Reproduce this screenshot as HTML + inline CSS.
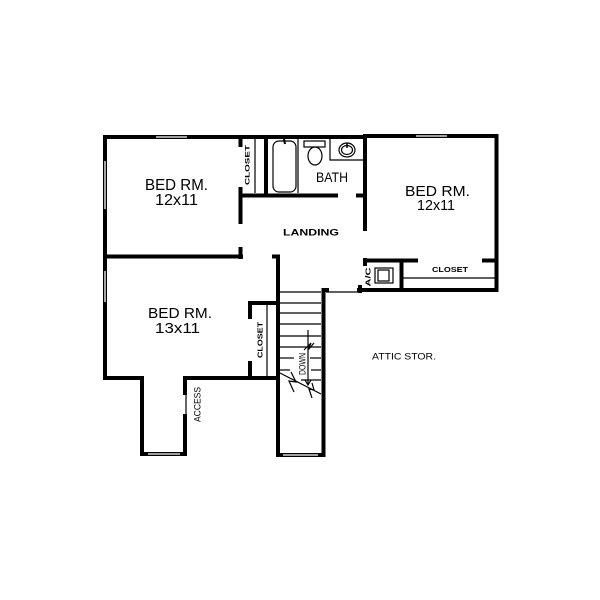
<!DOCTYPE html>
<html><head><meta charset="utf-8"><style>
html,body{margin:0;padding:0;background:#fff;}
svg{display:block;}
text{font-family:"Liberation Sans",sans-serif;fill:#000;}
</style></head><body>
<svg width="600" height="600" viewBox="0 0 600 600" xmlns="http://www.w3.org/2000/svg">
<rect width="600" height="600" fill="#fff"/>
<g stroke="#000" stroke-width="4" stroke-linecap="square" fill="none">
  <!-- outer top walls -->
  <line x1="105" y1="137" x2="365" y2="137"/>
  <line x1="365" y1="136" x2="496" y2="136"/>
  <!-- left wall -->
  <line x1="105" y1="137" x2="105" y2="378"/>
  <line x1="105" y1="378" x2="142" y2="378"/>
  <line x1="142" y1="378" x2="142" y2="454"/>
  <line x1="142" y1="454" x2="185" y2="454"/>
  <line x1="185" y1="454" x2="185" y2="416"/>
  <line x1="185" y1="393" x2="185" y2="378"/>
  <line x1="185" y1="378" x2="278" y2="378"/>
  <!-- bedroom divider -->
  <line x1="105" y1="256.5" x2="241" y2="256.5"/>
  <!-- closet left wall bed1 -->
  <line x1="240.5" y1="137" x2="240.5" y2="145"/>
  <line x1="240.5" y1="189" x2="240.5" y2="222"/>
  <line x1="240.5" y1="249" x2="240.5" y2="257"/>
  <!-- closet/tub wall -->
  <line x1="266" y1="137" x2="266" y2="195"/>
  <!-- landing top wall -->
  <line x1="240.5" y1="195.5" x2="336" y2="195.5"/>
  <line x1="358" y1="195.5" x2="365" y2="195.5"/>
  <!-- right block left wall -->
  <line x1="365" y1="136" x2="365" y2="229"/>
  <!-- A/C & closet -->
  <line x1="365" y1="260.5" x2="416" y2="260.5"/>
  <line x1="365" y1="260" x2="365" y2="264"/>
  <line x1="484" y1="260.5" x2="496" y2="260.5"/>
  <line x1="401.5" y1="260.5" x2="401.5" y2="290"/>
  <!-- right wall -->
  <line x1="496.5" y1="136" x2="496.5" y2="290"/>
  <line x1="359" y1="290" x2="496.5" y2="290"/>
  <line x1="360" y1="287" x2="360" y2="291"/>
  <!-- stair walls -->
  <line x1="274" y1="256.5" x2="278" y2="256.5"/>
  <line x1="278" y1="256.5" x2="278" y2="455"/>
  <line x1="278" y1="455" x2="323.5" y2="455"/>
  <line x1="323.5" y1="290" x2="323.5" y2="455"/>
  <line x1="323.5" y1="290" x2="327" y2="290"/>
  <!-- lower closet -->
  <line x1="250" y1="303" x2="278" y2="303"/>
  <line x1="250" y1="303" x2="250" y2="317"/>
  <line x1="250" y1="363" x2="250" y2="378"/>
</g>
<!-- windows (light inner lines) -->
<g stroke="#fff" stroke-width="1.3">
  <line x1="156" y1="137" x2="187" y2="137"/>
  <line x1="416" y1="136" x2="447" y2="136"/>
  <line x1="105" y1="161" x2="105" y2="209"/>
  <line x1="105" y1="271" x2="105" y2="302"/>
  <line x1="148" y1="454" x2="180" y2="454"/>
  <line x1="283" y1="455" x2="318" y2="455"/>
</g>
<!-- thin lines -->
<g stroke="#000" stroke-width="1.2" fill="none">
  <line x1="255" y1="139" x2="255" y2="193"/>
  <line x1="298" y1="139" x2="298" y2="193"/>
  <line x1="403" y1="278" x2="495" y2="278"/>
  <line x1="326" y1="292" x2="358" y2="292"/>
  <line x1="267" y1="305" x2="267" y2="376"/>
  <line x1="186" y1="393" x2="186" y2="416"/>
  <!-- stair treads -->
  <line x1="280" y1="292" x2="321" y2="292"/>
  <line x1="280" y1="303" x2="321" y2="303"/>
  <line x1="280" y1="313" x2="321" y2="313"/>
  <line x1="280" y1="324" x2="321" y2="324"/>
  <line x1="280" y1="336" x2="321" y2="336"/>
  <line x1="280" y1="347" x2="321" y2="347"/>
  <line x1="280" y1="358" x2="294" y2="358"/>
  <line x1="310" y1="358" x2="321" y2="358"/>
  <line x1="280" y1="370" x2="290" y2="370"/>
  <line x1="311" y1="370" x2="321" y2="370"/>
  <line x1="301" y1="380" x2="321" y2="380"/>
  <!-- break line -->
  <line x1="280" y1="373" x2="321" y2="394"/>
  <path d="M291 372 L296 382 L289 381 L294 392"/>
  <path d="M312 383 L314 390 L309 389 L312 398"/>
  <!-- down arrow -->
  <line x1="308" y1="330" x2="308" y2="384"/>
  <path d="M304 350 L311 343 L308 350 L314 343"/>
  <path d="M305 380 L308 385 L311 380"/>
  <!-- tub -->
  <rect x="273" y="141" width="23" height="51" rx="6" ry="6"/>
  <!-- toilet -->
  <rect x="304" y="141" width="21" height="6"/>
  <ellipse cx="315" cy="156" rx="7" ry="9"/>
  <!-- sink -->
  <polyline points="330,139 330,160 363,160"/>
  <ellipse cx="347" cy="150" rx="8" ry="7"/>
  <ellipse cx="347" cy="150" rx="5.5" ry="4.5"/>
  <!-- A/C unit -->
  <rect x="375" y="268" width="18" height="15"/>
  <rect x="378" y="270" width="11" height="11"/>
</g>
<line x1="347" y1="143" x2="347" y2="148" stroke="#000" stroke-width="1.5"/>
<line x1="284" y1="139" x2="285" y2="144" stroke="#000" stroke-width="2"/>

<!-- labels -->
<text x="145" y="190" font-size="16" textLength="63" lengthAdjust="spacingAndGlyphs">BED RM.</text>
<text x="155" y="205" font-size="16" textLength="43" lengthAdjust="spacingAndGlyphs">12x11</text>
<text x="405" y="196" font-size="15" textLength="65" lengthAdjust="spacingAndGlyphs">BED RM.</text>
<text x="417" y="210" font-size="15" textLength="38" lengthAdjust="spacingAndGlyphs">12x11</text>
<text x="148" y="318" font-size="15" textLength="64" lengthAdjust="spacingAndGlyphs">BED RM.</text>
<text x="155" y="333" font-size="15" textLength="45" lengthAdjust="spacingAndGlyphs">13x11</text>
<text x="316" y="182" font-size="14" textLength="32" lengthAdjust="spacingAndGlyphs">BATH</text>
<text x="283" y="235.5" font-size="9.5" font-weight="bold" textLength="56" lengthAdjust="spacingAndGlyphs">LANDING</text>
<text x="372" y="359.5" font-size="9" textLength="64" lengthAdjust="spacingAndGlyphs">ATTIC STOR.</text>
<text x="432" y="272" font-size="7" font-weight="bold" textLength="36" lengthAdjust="spacingAndGlyphs">CLOSET</text>
<text transform="translate(249.5,165) rotate(-90)" text-anchor="middle" font-size="6.5" font-weight="bold" textLength="40" lengthAdjust="spacingAndGlyphs">CLOSET</text>
<text transform="translate(262.5,340) rotate(-90)" text-anchor="middle" font-size="7" font-weight="bold" textLength="36" lengthAdjust="spacingAndGlyphs">CLOSET</text>
<text transform="translate(370.5,277) rotate(-90)" text-anchor="middle" font-size="7" font-weight="bold" textLength="19" lengthAdjust="spacingAndGlyphs">A/C</text>
<text transform="translate(200.5,404.5) rotate(-90)" text-anchor="middle" font-size="9" textLength="35" lengthAdjust="spacingAndGlyphs">ACCESS</text>
<text transform="translate(305.5,364) rotate(-90)" text-anchor="middle" font-size="9" textLength="22" lengthAdjust="spacingAndGlyphs">DOWN</text>
</svg>
</body></html>
